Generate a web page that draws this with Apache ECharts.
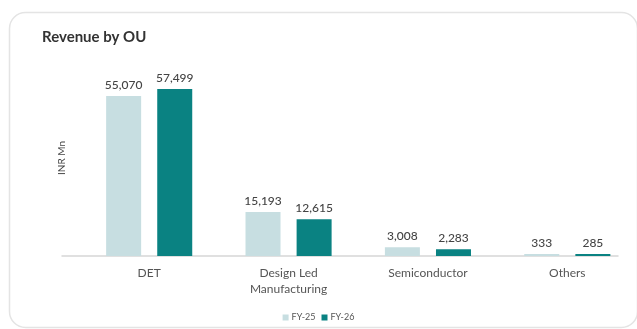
<!DOCTYPE html>
<html>
<head>
<meta charset="utf-8">
<style>
html,body{margin:0;padding:0;background:#fff;}
#chart{width:637px;height:329px;}
</style>
<script src="https://cdn.jsdelivr.net/npm/echarts@6/dist/echarts.min.js"></script>
</head>
<body>
<div id="chart"></div>
<script>
const categories = ['DET', 'Design Led\nManufacturing', 'Semiconductor', 'Others'];
const seriesNames = ['FY-25', 'FY-26'];
const fy25 = [55070, 15193, 3008, 333];
const fy26 = [57499, 12615, 2283, 285];

const chart = echarts.init(document.getElementById('chart'), null, {renderer: 'canvas'});
const labelStyle = {
  show: true, position: 'top', distance: 5,
  color: '#444', fontSize: 12, fontFamily: 'Lato', fontWeight: 500,
  formatter: p => p.value.toLocaleString('en-US')
};
chart.setOption({
  backgroundColor: '#ffffff',
  animation: false,
  graphic: [{
    type: 'rect', z: -10, silent: true,
    shape: {x: 9.5, y: 12.5, width: 628, height: 315, r: 16},
    style: {fill: '#ffffff', stroke: '#e4e4e4', lineWidth: 1.5}
  }],
  title: {
    text: 'Revenue by OU', left: 37, top: 25,
    textStyle: {fontFamily: 'Lato', fontWeight: 'bold', fontSize: 15, color: '#333'}
  },
  legend: {
    data: seriesNames, bottom: 2, left: 'center',
    icon: 'rect', itemWidth: 6, itemHeight: 6, itemGap: 6,
    textStyle: {fontFamily: 'Lato', fontSize: 9, color: '#555', padding: [0, 0, 0, -2]}
  },
  grid: [
    {left: 62, width: 556, top: 60, bottom: 73},
    {left: 79.5, width: 564, top: 60, bottom: 73}
  ],
  xAxis: [
    {gridIndex: 0, type: 'category', data: [''], axisLine: {show: true, lineStyle: {color: '#d6d6d6', width: 1.5}},
     axisTick: {show: false}, axisLabel: {show: false}},
    {gridIndex: 1, type: 'category', data: categories, axisLine: {show: false}, axisTick: {show: false},
     axisLabel: {margin: 9, color: '#555', fontSize: 12, fontFamily: 'Lato', lineHeight: 16}}
  ],
  yAxis: [
    {gridIndex: 0, type: 'value', min: 0, max: 67500, show: true, name: 'INR Mn', nameLocation: 'middle',
     nameGap: -5, nameRotate: 90,
     nameTextStyle: {fontFamily: 'Lato', fontSize: 10, color: '#444'},
     axisLine: {show: false}, axisTick: {show: false}, axisLabel: {show: false}, splitLine: {show: false}},
    {gridIndex: 1, type: 'value', min: 0, max: 67500, show: false}
  ],
  series: [
    {name: seriesNames[0], type: 'bar', xAxisIndex: 1, yAxisIndex: 1, data: fy25,
     barWidth: 35, barGap: '46%', barMinHeight: 2,
     itemStyle: {color: '#c7dee1'}, label: labelStyle},
    {name: seriesNames[1], type: 'bar', xAxisIndex: 1, yAxisIndex: 1, data: fy26,
     barWidth: 35, barGap: '46%', barMinHeight: 2,
     itemStyle: {color: '#0a8282'}, label: labelStyle}
  ]
});
</script>
</body>
</html>
